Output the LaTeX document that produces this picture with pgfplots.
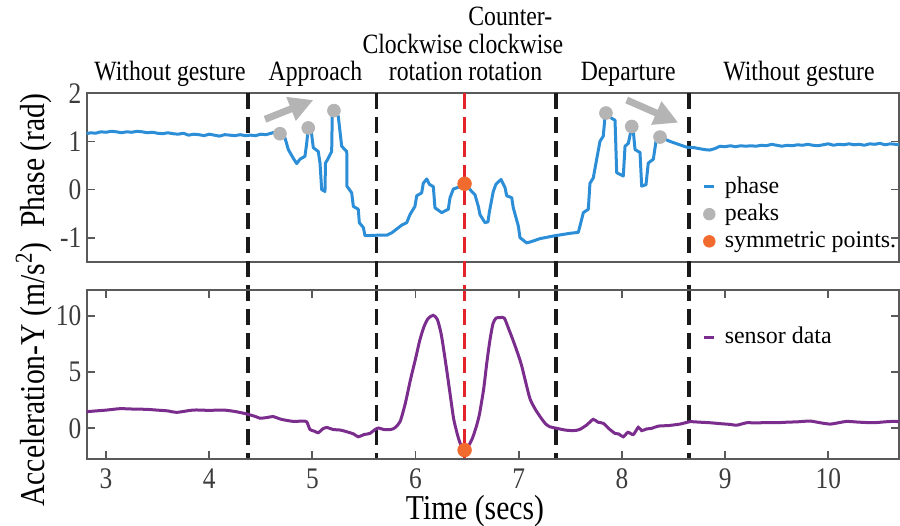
\documentclass[border=0pt]{standalone}
\usepackage{fontspec}
\setmainfont{Liberation Serif}[FakeStretch=0.85]
\newfontfamily\legfont{Liberation Serif}
\usepackage{pgfplots}
\pgfplotsset{compat=1.18}
\usetikzlibrary{arrows.meta}

\definecolor{phaseblue}{HTML}{2C8ED6}
\definecolor{sensorpurple}{HTML}{7B2D8E}
\definecolor{peakgray}{HTML}{B4B4B4}
\definecolor{symorange}{HTML}{F26B2E}
\definecolor{cutred}{HTML}{E3242B}
\definecolor{axisgray}{HTML}{5A5A5A}
\definecolor{ticktext}{HTML}{3C3C3C}

% phase trace (rad)
\pgfplotstableread{
t phase
2.813 1.16
2.85 1.18
2.90 1.17
2.95 1.20
3.00 1.19
3.05 1.21
3.10 1.20
3.15 1.18
3.20 1.20
3.25 1.19
3.30 1.21
3.35 1.20
3.40 1.18
3.45 1.19
3.50 1.17
3.55 1.16
3.60 1.18
3.65 1.16
3.70 1.15
3.75 1.17
3.80 1.13
3.85 1.15
3.90 1.14
3.95 1.12
4.00 1.15
4.05 1.13
4.10 1.11
4.15 1.14
4.20 1.13
4.25 1.12
4.30 1.14
4.35 1.12
4.40 1.13
4.45 1.12
4.50 1.15
4.55 1.14
4.60 1.17
4.65 1.20
4.686 1.16
4.735 1.07
4.767 0.83
4.815 0.65
4.848 0.54
4.880 0.63
4.928 0.69
4.945 0.96
4.960 1.28
4.987 1.25
5.009 0.87
5.057 0.79
5.074 0.55
5.090 0.00
5.122 -0.04
5.127 0.55
5.154 0.65
5.187 0.79
5.193 1.59
5.209 1.64
5.251 1.52
5.284 0.90
5.333 0.79
5.335 0.07
5.381 -0.07
5.397 -0.35
5.445 -0.41
5.455 -0.69
5.494 -0.79
5.510 -0.96
5.623 -0.95
5.720 -0.95
5.769 -0.90
5.866 -0.74
5.914 -0.69
5.946 -0.52
5.994 -0.35
6.011 -0.13
6.059 -0.07
6.075 0.13
6.108 0.22
6.133 0.11
6.172 0.06
6.188 -0.38
6.253 -0.48
6.317 -0.41
6.334 -0.17
6.366 0.01
6.431 0.06
6.475 0.12
6.527 0.00
6.576 -0.11
6.608 -0.35
6.624 -0.52
6.673 -0.69
6.702 -0.67
6.714 -0.48
6.753 -0.04
6.779 0.11
6.828 0.21
6.867 0.04
6.883 -0.13
6.932 -0.17
6.947 -0.38
6.996 -0.76
7.012 -1.00
7.077 -1.11
7.126 -1.08
7.206 -1.02
7.351 -0.96
7.497 -0.91
7.577 -0.89
7.593 -0.76
7.626 -0.48
7.674 -0.41
7.690 0.13
7.722 0.24
7.755 0.63
7.787 1.00
7.819 1.11
7.836 1.52
7.845 1.59
7.901 1.48
7.933 1.44
7.949 0.35
8.013 0.28
8.030 0.90
8.062 0.96
8.095 1.31
8.107 1.28
8.127 0.83
8.175 0.77
8.191 0.07
8.233 0.10
8.255 0.55
8.304 0.63
8.330 1.00
8.369 1.09
8.466 1.00
8.627 0.88
8.70 0.87
8.75 0.85
8.80 0.83
8.85 0.82
8.90 0.85
8.95 0.90
9.00 0.89
9.05 0.91
9.10 0.89
9.15 0.91
9.20 0.90
9.25 0.91
9.30 0.90
9.35 0.92
9.40 0.91
9.45 0.94
9.50 0.92
9.55 0.90
9.60 0.92
9.65 0.91
9.70 0.93
9.75 0.92
9.80 0.94
9.85 0.92
9.90 0.91
9.95 0.93
10.00 0.95
10.05 0.92
10.10 0.94
10.15 0.93
10.20 0.95
10.25 0.93
10.30 0.94
10.35 0.92
10.40 0.95
10.45 0.94
10.50 0.96
10.55 0.93
10.60 0.95
10.65 0.94
10.685 0.93
}\phasedata

% acceleration along Y (m/s^2)
\pgfplotstableread{
t acc
2.813 1.48
2.90 1.55
3.00 1.62
3.136 1.75
3.25 1.72
3.394 1.69
3.50 1.62
3.60 1.55
3.685 1.42
3.846 1.63
4.00 1.60
4.137 1.63
4.25 1.50
4.364 1.28
4.45 1.05
4.492 0.90
4.55 0.95
4.621 1.04
4.70 0.80
4.815 0.62
4.90 0.65
4.945 0.58
4.977 -0.10
5.02 -0.25
5.057 -0.39
5.10 -0.05
5.139 0.08
5.20 -0.10
5.27 -0.15
5.333 -0.30
5.40 -0.50
5.445 -0.75
5.50 -0.55
5.558 -0.45
5.60 -0.15
5.639 0.03
5.70 -0.12
5.76 -0.10
5.80 0.05
5.85 0.60
5.90 2.20
5.95 4.30
6.00 6.20
6.04 7.80
6.08 9.00
6.12 9.75
6.17 10.05
6.21 9.70
6.25 8.30
6.30 5.30
6.34 2.70
6.37 0.80
6.41 -0.70
6.44 -1.50
6.475 -1.93
6.51 -1.60
6.55 -0.90
6.59 0.20
6.62 1.30
6.66 3.50
6.69 5.80
6.72 7.80
6.75 9.30
6.78 9.80
6.82 9.85
6.86 9.80
6.90 8.90
6.95 7.70
7.00 6.40
7.03 5.50
7.07 4.00
7.11 2.60
7.16 1.70
7.21 1.00
7.26 0.40
7.30 0.15
7.37 0.00
7.45 -0.15
7.53 -0.20
7.59 -0.10
7.658 0.30
7.722 0.80
7.767 0.55
7.819 0.45
7.87 0.00
7.933 -0.45
7.97 -0.50
8.013 -0.75
8.058 -0.35
8.110 -0.55
8.158 0.09
8.191 -0.20
8.240 -0.05
8.288 0.00
8.352 0.20
8.45 0.25
8.562 0.38
8.659 0.59
8.75 0.55
8.853 0.50
8.95 0.42
9.05 0.35
9.112 0.28
9.209 0.50
9.30 0.48
9.40 0.52
9.499 0.50
9.60 0.55
9.70 0.58
9.822 0.65
9.92 0.50
10.016 0.38
10.10 0.50
10.178 0.62
10.30 0.55
10.433 0.50
10.55 0.58
10.627 0.62
10.685 0.60
}\accdata

\pgfplotsset{
  every axis/.append style={
    scale only axis, width=406.15bp,
    xmin=2.813, xmax=10.685,
    tick align=inside, major tick length=4bp,
    axis line style={draw=axisgray, line width=0.9bp},
    every tick/.append style={draw=axisgray, line width=0.9bp},
    tick label style={font=\fontsize{15}{15}\selectfont, text=ticktext},
    /pgf/number format/assume math mode=true,
    yticklabel style={inner sep=0pt, xshift=-2.5bp},
    xticklabel style={inner sep=0pt, yshift=-4.5bp},
    legend cell align=left,
    legend style={draw=none, fill=none, inner sep=0pt, anchor=north west,
      font=\legfont\fontsize{12}{12}\selectfont, row sep=0pt, column sep=2.5bp},
    every axis y label/.style={rotate=90, anchor=base,
      font=\fontsize{17.5}{18}\selectfont},
    every axis x label/.style={anchor=base,
      font=\fontsize{17.5}{18}\selectfont},
  },
}

\begin{document}
\begin{tikzpicture}
\tikzset{cut/.style={dash pattern=on 8bp off 4bp, line width=1.7bp}}

% ---- phase ----
\begin{axis}[
  at={(43.35bp,132.15bp)}, anchor=south west,
  height=84.2bp,
  ymin=-1.5, ymax=2,
  ytick={-1,0,1,2},
  xtick=\empty,
  clip=false,
  ylabel={Phase (rad)},
  ylabel style={at={(axis description cs:-0.052,0.6)}},
  legend style={at={(rel axis cs:0.758,0.53)}},
]
  % stage boundaries, running down through both panels
  \draw[cut, black!90] (axis cs:4.375,2) -- ([yshift=-183bp]axis cs:4.375,2);
  \draw[cut, black!90] (axis cs:5.62,2) -- ([yshift=-183bp]axis cs:5.62,2);
  \draw[cut, black!90] (axis cs:7.36,2) -- ([yshift=-183bp]axis cs:7.36,2);
  \draw[cut, black!90] (axis cs:8.65,2) -- ([yshift=-183bp]axis cs:8.65,2);
  \draw[cut, cutred] (axis cs:6.475,2) -- ([yshift=-183bp]axis cs:6.475,2);

  \addplot[phaseblue, line width=1.5bp, line join=round,
    legend image code/.code={\draw[phaseblue, line width=1.5bp] (0bp,0bp) -- (5bp,0bp);}]
    table[x=t, y=phase] {\phasedata};
  \addlegendentry{phase}

  \addplot[only marks, mark=*, mark size=3.2bp, peakgray, mark options={draw=peakgray, fill=peakgray},
    legend image code/.code={\fill[peakgray] (2.5bp,0bp) circle (2.9bp);}]
    coordinates {(4.686,1.16) (4.960,1.28) (5.209,1.64) (7.845,1.59) (8.095,1.31) (8.369,1.09)};
  \addlegendentry{peaks}

  \addplot[only marks, mark=*, mark size=3.4bp, symorange, mark options={draw=symorange, fill=symorange},
    legend image code/.code={\fill[symorange] (2.5bp,0bp) circle (2.9bp);}]
    coordinates {(6.475,0.12)};
  \addlegendentry{symmetric points.}

  % direction arrows
  \draw[-{Triangle[length=12bp,width=12bp]}, line width=3.5bp, draw=peakgray]
    (axis cs:4.541,1.46) -- (axis cs:5.009,1.86);
  \draw[-{Triangle[length=12bp,width=12bp]}, line width=3.5bp, draw=peakgray]
    (axis cs:8.046,1.86) -- (axis cs:8.546,1.39);

  % stage titles
  \begin{scope}[every node/.style={font=\fontsize{14}{14}\selectfont, inner sep=0pt}]
    \node[anchor=base] at ([yshift=6.65bp]axis cs:3.62,2) {Without gesture};
    \node[anchor=base] at ([yshift=6.65bp]axis cs:5.03,2) {Approach};
    \node[anchor=base east] at ([yshift=6.65bp]axis cs:6.46,2) {rotation};
    \node[anchor=base east] at ([yshift=20.15bp]axis cs:6.46,2) {Clockwise};
    \node[anchor=base west] at ([yshift=6.65bp]axis cs:6.508,2) {rotation};
    \node[anchor=base west] at ([yshift=20.15bp]axis cs:6.508,2) {clockwise};
    \node[anchor=base west] at ([yshift=34.15bp]axis cs:6.508,2) {Counter-};
    \node[anchor=base] at ([yshift=6.65bp]axis cs:8.06,2) {Departure};
    \node[anchor=base] at ([yshift=6.65bp]axis cs:9.716,2) {Without gesture};
  \end{scope}
\end{axis}

% ---- acceleration ----
\begin{axis}[
  at={(43.35bp,33.35bp)}, anchor=south west,
  height=84.65bp,
  ymin=-2.75, ymax=12.3,
  ytick={0,5,10},
  xtick={3,4,5,6,7,8,9,10},
  xlabel={Time (secs)},
  xlabel style={at={(axis description cs:0.478,-0.355)}},
  ylabel={Acceleration-Y (m/s\textsuperscript{2})},
  ylabel style={at={(axis description cs:-0.052,0.5)}},
  legend style={at={(rel axis cs:0.758,0.805)}},
]
  \addplot[sensorpurple, line width=1.5bp, smooth, tension=0.4,
    legend image code/.code={\draw[sensorpurple, line width=1.5bp] (0bp,0bp) -- (5bp,0bp);}]
    table[x=t, y=acc] {\accdata};
  \addlegendentry{sensor data}

  \addplot[only marks, mark=*, mark size=3.4bp, symorange, mark options={draw=symorange, fill=symorange},
    forget plot]
    coordinates {(6.475,-1.93)};
\end{axis}

\pgfresetboundingbox
\path[use as bounding box] (0,0) rectangle (450bp,263bp);
\end{tikzpicture}
\end{document}
